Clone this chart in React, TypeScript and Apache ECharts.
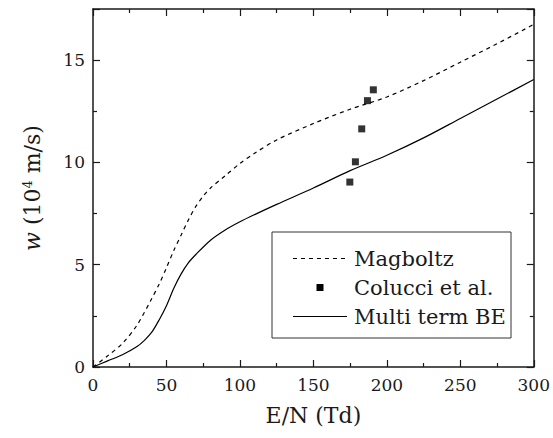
import React, { useEffect, useRef } from "react";
import * as echarts from "echarts";

// E/N sample points (Td) for the computed drift velocity curves
const magboltzX = [0, 10, 20, 30, 40, 45, 50, 55, 60, 65, 70, 75, 80, 90, 100, 110, 125, 150, 175, 200, 225, 250, 275, 300];
const magboltzW = [0, 0.55, 1.15, 2.05, 3.35, 4.05, 4.85, 5.7, 6.45, 7.2, 7.85, 8.35, 8.75, 9.35, 9.95, 10.45, 11.1, 11.9, 12.6, 13.2, 14.0, 14.9, 15.8, 16.75];

const multiTermX = [0, 10, 20, 30, 35, 40, 45, 50, 55, 60, 65, 70, 80, 90, 100, 110, 125, 150, 175, 200, 225, 250, 275, 300];
const multiTermW = [0, 0.3, 0.6, 1.0, 1.3, 1.7, 2.3, 3.0, 3.85, 4.55, 5.1, 5.5, 6.2, 6.7, 7.1, 7.45, 7.95, 8.75, 9.6, 10.35, 11.2, 12.15, 13.1, 14.05];

// Measured drift velocities
const colucciX = [174.8, 178.6, 182.9, 186.8, 190.8];
const colucciW = [9.04, 10.03, 11.64, 13.02, 13.55];

const xTicks = [0, 50, 100, 150, 200, 250, 300];
const yTicks = [0, 5, 10, 15];

const legendNames = ["Magboltz", "Colucci et al.", "Multi term BE"];

const FONT = "DejaVu Serif";
const INK = "#1a1a1a";

const zip = (xs: number[], ys: number[]) => xs.map((x, i) => [x, ys[i]]);

export default function App() {
  const ref = useRef<HTMLDivElement>(null);

  useEffect(() => {
    if (!ref.current) return;
    const chart = echarts.init(ref.current, undefined, { renderer: "svg" });

    const frameAxis = {
      axisLine: { show: true, onZero: false, lineStyle: { color: INK, width: 1.5 } },
      axisTick: { show: true, inside: true, length: 7, lineStyle: { color: INK, width: 1.2 } },
      minorTick: { show: true, splitNumber: 2, length: 4, lineStyle: { color: INK, width: 1.2 } },
      splitLine: { show: false },
      minorSplitLine: { show: false },
    };

    // Boxed key in the lower right of the plot
    const boxX = 272;
    const boxY = 232;
    const rowY = [258.5, 287.5, 316.5];
    const keyX0 = 293;
    const keyX1 = 347;
    const textX = 354;
    const legendGraphic = {
      type: "group",
      children: [
        {
          type: "rect",
          shape: { x: boxX, y: boxY, width: 239, height: 106 },
          style: { fill: "#fff", stroke: "#333", lineWidth: 1 },
        },
        {
          type: "line",
          shape: { x1: keyX0, y1: rowY[0], x2: keyX1, y2: rowY[0] },
          style: { stroke: "#000", lineWidth: 1.2, lineDash: [4, 4] },
        },
        {
          type: "rect",
          shape: { x: (keyX0 + keyX1) / 2 - 3.5, y: rowY[1] - 3.5, width: 7, height: 7 },
          style: { fill: "#000" },
        },
        {
          type: "line",
          shape: { x1: keyX0, y1: rowY[2], x2: keyX1, y2: rowY[2] },
          style: { stroke: "#000", lineWidth: 1.2 },
        },
        ...legendNames.map((name, i) => ({
          type: "text",
          x: textX,
          y: rowY[i],
          style: {
            text: name,
            fill: INK,
            fontFamily: FONT,
            fontSize: 21,
            textAlign: "left",
            textVerticalAlign: "middle",
          },
        })),
      ],
    };

    chart.setOption({
      animation: false,
      backgroundColor: "#fff",
      grid: { left: 93, right: 16, top: 9, bottom: 71, containLabel: false },
      xAxis: [
        {
          type: "value",
          position: "bottom",
          min: 0,
          max: 300,
          interval: 50,
          ...frameAxis,
          axisLabel: {
            color: INK,
            fontFamily: FONT,
            fontSize: 17,
            margin: 9,
            formatter: (v: number) => (xTicks.includes(v) ? String(v) : ""),
          },
          name: "E/N (Td)",
          nameLocation: "middle",
          nameGap: 37,
          nameTextStyle: { color: INK, fontFamily: FONT, fontSize: 22, verticalAlign: "top" },
        },
        {
          type: "value",
          position: "top",
          min: 0,
          max: 300,
          interval: 50,
          ...frameAxis,
          axisLabel: { show: false },
        },
      ],
      yAxis: [
        {
          type: "value",
          position: "left",
          min: 0,
          max: 17.5,
          interval: 5,
          ...frameAxis,
          axisLabel: {
            color: INK,
            fontFamily: FONT,
            fontSize: 17,
            margin: 8,
            formatter: (v: number) => (yTicks.includes(v) ? String(v) : ""),
          },
          name: "{i|w} (10{sup|4} m/s)",
          nameLocation: "middle",
          nameGap: 50,
          nameTextStyle: {
            color: INK,
            fontFamily: FONT,
            fontSize: 22,
            rich: {
              i: { fontFamily: FONT, fontSize: 22, fontStyle: "italic", color: INK },
              sup: { fontFamily: FONT, fontSize: 13, color: INK, verticalAlign: "top", padding: [0, 0, 9, 0] },
            },
          },
        },
        {
          type: "value",
          position: "right",
          min: 0,
          max: 17.5,
          interval: 5,
          ...frameAxis,
          axisLabel: { show: false },
        },
      ],
      graphic: [legendGraphic],
      series: [
        {
          name: legendNames[0],
          type: "line",
          data: zip(magboltzX, magboltzW),
          smooth: 0.3,
          symbol: "none",
          lineStyle: { color: "#000", width: 1.2, type: [4, 4] },
          itemStyle: { color: "#000" },
        },
        {
          name: legendNames[1],
          type: "scatter",
          data: zip(colucciX, colucciW),
          symbol: "rect",
          symbolSize: 7,
          itemStyle: { color: "#000" },
        },
        {
          name: legendNames[2],
          type: "line",
          data: zip(multiTermX, multiTermW),
          smooth: 0.3,
          symbol: "none",
          lineStyle: { color: "#000", width: 1.2 },
          itemStyle: { color: "#000" },
        },
      ],
    });

    return () => chart.dispose();
  }, []);

  return (
    <div
      ref={ref}
      style={{ position: "fixed", left: 0, top: 0, width: 553, height: 438, background: "#fff" }}
    />
  );
}
